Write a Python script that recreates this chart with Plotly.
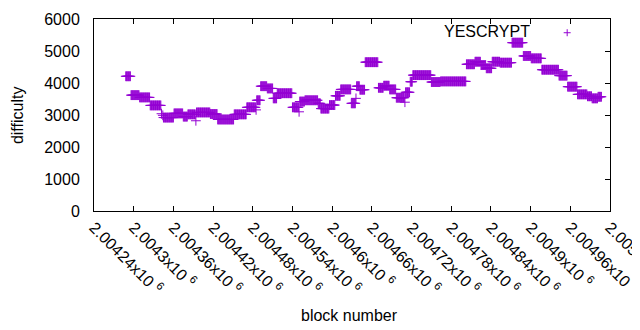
import plotly.graph_objects as go

# ---- data: runs of constant difficulty (inclusive block ranges) ----
run_start = [2004288, 2004296, 2004309, 2004325, 2004342, 2004344, 2004345, 2004361, 2004375, 2004382,
             2004394, 2004395, 2004416, 2004427, 2004452, 2004471, 2004485, 2004486, 2004492, 2004502,
             2004511, 2004517, 2004540, 2004550, 2004551, 2004559, 2004579, 2004583, 2004596, 2004605,
             2004613, 2004629, 2004636, 2004637, 2004642, 2004650, 2004670, 2004678, 2004687, 2004697,
             2004710, 2004711, 2004718, 2004722, 2004750, 2004764, 2004803, 2004816, 2004825, 2004833,
             2004842, 2004854, 2004872, 2004889, 2004901, 2004917, 2004943, 2004956, 2004971, 2004986,
             2004993, 2005002]
run_end = [2004295, 2004308, 2004324, 2004341, 2004342, 2004344, 2004360, 2004374, 2004381, 2004393,
           2004394, 2004415, 2004426, 2004451, 2004470, 2004484, 2004485, 2004491, 2004501, 2004510,
           2004516, 2004539, 2004549, 2004550, 2004558, 2004578, 2004582, 2004595, 2004604, 2004612,
           2004628, 2004635, 2004636, 2004641, 2004649, 2004669, 2004677, 2004686, 2004696, 2004709,
           2004710, 2004717, 2004721, 2004749, 2004763, 2004802, 2004815, 2004824, 2004832, 2004841,
           2004853, 2004871, 2004888, 2004900, 2004916, 2004942, 2004955, 2004970, 2004985, 2004992,
           2005001, 2005007]
run_difficulty = [4210, 3620, 3550, 3300, 3040, 2990, 2920, 3050, 2950, 3020,
                  2820, 3080, 3030, 2860, 3020, 3240, 3160, 3460, 3900, 3830,
                  3520, 3680, 3240, 3100, 3420, 3460, 3365, 3200, 3310, 3600,
                  3800, 3365, 3520, 3900, 3790, 4650, 3850, 3915, 3800, 3540,
                  3400, 3710, 4040, 4245, 4030, 4050, 4585, 4665, 4560, 4460,
                  4665, 4635, 5260, 4845, 4770, 4415, 4230, 3885, 3645, 3585,
                  3520, 3570]

series_name = "YESCRYPT"
x_tick_values = [2004240, 2004300, 2004360, 2004420, 2004480, 2004540, 2004600,
                 2004660, 2004720, 2004780, 2004840, 2004900, 2004960, 2005020]
x_tick_labels = ["2.00424", "2.0043", "2.00436", "2.00442", "2.00448", "2.00454", "2.0046",
                 "2.00466", "2.00472", "2.00478", "2.00484", "2.0049", "2.00496", "2.00502"]
y_tick_values = [0, 1000, 2000, 3000, 4000, 5000, 6000]

blocks, diffs = [], []
for s, e, d in zip(run_start, run_end, run_difficulty):
    for b in range(s, e + 1):
        blocks.append(b)
        diffs.append(d)

COLOR = "#9400D3"
FONT = dict(family="Liberation Sans, Arial, sans-serif", size=16, color="black")

fig = go.Figure()
fig.add_trace(go.Scatter(
    x=blocks, y=diffs, mode="markers", name=series_name, showlegend=False,
    marker=dict(symbol="cross-thin", size=7, color=COLOR, line=dict(color=COLOR, width=1)),
))
# helper trace for the right-hand tick axis
fig.add_trace(go.Scatter(x=[], y=[], yaxis="y2", showlegend=False, hoverinfo="skip"))

fig.update_layout(
    width=640, height=330,
    margin=dict(l=86, r=38, t=11, b=127),
    paper_bgcolor="white", plot_bgcolor="white",
    font=FONT,
    xaxis=dict(range=[2004240, 2005020], tickvals=x_tick_values,
               ticktext=[t + "x10 <sup>6</sup>" for t in x_tick_labels],
               tickangle=45, ticks="inside", ticklen=5, tickcolor="black",
               showline=True, linecolor="black", linewidth=1, mirror="ticks",
               showgrid=False, zeroline=False, tickfont=FONT,
               automargin=False, ticklabeloverflow="allow"),
    yaxis=dict(range=[0, 6000], tickvals=y_tick_values, ticks="",
               showline=True, linecolor="black", linewidth=1, mirror=True,
               showgrid=False, zeroline=False, tickfont=FONT, ticklabelstandoff=10,
               automargin=False),
    yaxis2=dict(range=[0, 6000], tickvals=y_tick_values, overlaying="y", side="right",
                ticks="inside", ticklen=5, tickcolor="black", showticklabels=False,
                showline=False, showgrid=False, zeroline=False, automargin=False),
    annotations=[
        dict(text="difficulty", xref="paper", yref="paper", x=-0.149, y=0.5,
             textangle=-90, showarrow=False, font=FONT, xanchor="center", yanchor="middle"),
        dict(text="block number", xref="paper", yref="paper", x=0.496, y=-0.542,
             showarrow=False, font=FONT, xanchor="center", yanchor="middle"),
        dict(text=series_name, xref="paper", yref="paper", x=0.849, y=0.934,
             showarrow=False, font=FONT, xanchor="right", yanchor="middle"),
    ],
    shapes=[
        dict(type="line", xref="paper", yref="paper", xsizemode="pixel", ysizemode="pixel",
             xanchor=0.917, yanchor=0.9285, x0=-3.5, x1=3.5, y0=0, y1=0,
             line=dict(color=COLOR, width=1)),
        dict(type="line", xref="paper", yref="paper", xsizemode="pixel", ysizemode="pixel",
             xanchor=0.917, yanchor=0.9285, x0=0, x1=0, y0=-3.5, y1=3.5,
             line=dict(color=COLOR, width=1)),
    ],
)
fig.write_html("out.html")
